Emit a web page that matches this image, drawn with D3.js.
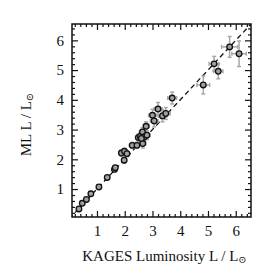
<!DOCTYPE html>
<html>
<head>
<meta charset="utf-8">
<script src="https://cdn.jsdelivr.net/npm/d3@7"></script>
<style>
    body { margin: 0; background: #fff; }
    text { font-family: "Liberation Serif", "DejaVu Serif", serif; }
</style>
</head>
<body>
<div id="chart"></div>
<script>
// KAGES luminosity vs machine-learning luminosity
var kagesL = [0.35, 0.47, 0.62, 0.78, 1.07, 1.37, 1.63, 1.66, 1.88, 1.99, 2.08, 1.98, 2.27, 2.44, 2.49, 2.56, 2.64, 2.65, 2.70, 2.77, 2.80, 2.60, 3.00, 3.06, 3.20, 3.36, 3.48, 3.71, 4.83, 5.22, 5.37, 5.78, 6.12]
var mlL    = [0.33, 0.52, 0.65, 0.84, 1.07, 1.39, 1.66, 1.72, 2.21, 2.27, 2.19, 1.97, 2.47, 2.47, 2.73, 2.77, 2.92, 2.53, 2.75, 3.11, 2.81, 2.70, 3.48, 3.29, 3.69, 3.46, 3.54, 4.06, 4.50, 5.21, 4.96, 5.78, 5.55]
var kagesErr = [0.03, 0.03, 0.03, 0.04, 0.04, 0.05, 0.06, 0.06, 0.08, 0.08, 0.08, 0.08, 0.10, 0.10, 0.10, 0.10, 0.11, 0.11, 0.11, 0.11, 0.11, 0.11, 0.14, 0.14, 0.15, 0.15, 0.16, 0.16, 0.23, 0.18, 0.17, 0.29, 0.26]
var mlErr    = [0.03, 0.03, 0.03, 0.04, 0.04, 0.05, 0.06, 0.06, 0.10, 0.10, 0.10, 0.10, 0.10, 0.10, 0.12, 0.12, 0.14, 0.15, 0.14, 0.15, 0.15, 0.14, 0.20, 0.20, 0.22, 0.20, 0.20, 0.20, 0.30, 0.25, 0.25, 0.35, 0.43]
var tickValues = [1, 2, 3, 4, 5, 6]

var width = 276
var height = 276
var margin = {top: 24, right: 25, bottom: 59, left: 72}

function drawChart() {
    var data = kagesL.map((k, i) => ({x: k, y: mlL[i], ex: kagesErr[i], ey: mlErr[i]}))

    var xScale = d3.scaleLinear([0.1, 6.55], [margin.left, width - margin.right])
    var yScale = d3.scaleLinear([0.06, 6.55], [height - margin.bottom, margin.top])

    var svg = d3.select("#chart")
        .append("svg")
        .attr("width", width)
        .attr("height", height)
        .attr("viewBox", [0, 0, width, height])

    svg.append("defs").append("clipPath").attr("id", "clip")
        .append("rect")
        .attr("x", margin.left).attr("y", margin.top)
        .attr("width", width - margin.left - margin.right)
        .attr("height", height - margin.top - margin.bottom)

    var minor = d3.range(0.2, 6.6, 0.2).filter(v => Math.abs(v - Math.round(v)) > 0.01)

    // inward ticks on all four sides
    var axes = [
        {ax: d3.axisBottom(xScale), y: height - margin.bottom, x: 0, labels: true},
        {ax: d3.axisTop(xScale), y: margin.top, x: 0, labels: false},
        {ax: d3.axisLeft(yScale), y: 0, x: margin.left, labels: true},
        {ax: d3.axisRight(yScale), y: 0, x: width - margin.right, labels: false}
    ]
    axes.forEach(a => {
        var g = svg.append("g").attr("transform", "translate(" + a.x + "," + a.y + ")")
        g.call(a.ax.tickValues(minor).tickSize(-3).tickSizeOuter(0).tickFormat(""))
        g.select(".domain").remove()
        var g2 = svg.append("g").attr("transform", "translate(" + a.x + "," + a.y + ")")
        g2.call(a.ax.tickValues(tickValues).tickSize(-6).tickSizeOuter(0).tickPadding(8)
            .tickFormat(a.labels ? d3.format("d") : ""))
        g2.select(".domain").remove()
        g2.selectAll("text").attr("font-size", 15).attr("fill", "#111")
            .style("font-family", "'Liberation Serif', serif")
        svg.selectAll(".tick line").attr("stroke", "#111").attr("stroke-width", 1.2)
    })

    // 1:1 line
    svg.append("line")
        .attr("clip-path", "url(#clip)")
        .attr("x1", xScale(0)).attr("y1", yScale(0))
        .attr("x2", xScale(7)).attr("y2", yScale(7))
        .attr("stroke", "#111")
        .attr("stroke-width", 1.3)
        .attr("stroke-dasharray", "5,3.5")

    var errColor = "#a8a8a8"
    var eb = svg.append("g").attr("stroke", errColor).attr("stroke-width", 1.5)
    data.forEach(d => {
        eb.append("line")
            .attr("x1", xScale(d.x - d.ex)).attr("x2", xScale(d.x + d.ex))
            .attr("y1", yScale(d.y)).attr("y2", yScale(d.y))
        eb.append("line")
            .attr("x1", xScale(d.x)).attr("x2", xScale(d.x))
            .attr("y1", yScale(d.y - d.ey)).attr("y2", yScale(d.y + d.ey))
        ;[d.y - d.ey, d.y + d.ey].forEach(v => {
            eb.append("line")
                .attr("x1", xScale(d.x) - 2).attr("x2", xScale(d.x) + 2)
                .attr("y1", yScale(v)).attr("y2", yScale(v))
        })
        ;[d.x - d.ex, d.x + d.ex].forEach(v => {
            eb.append("line")
                .attr("x1", xScale(v)).attr("x2", xScale(v))
                .attr("y1", yScale(d.y) - 2).attr("y2", yScale(d.y) + 2)
        })
    })

    svg.append("g")
        .selectAll("circle")
        .data(data)
        .join("circle")
            .attr("cx", d => xScale(d.x))
            .attr("cy", d => yScale(d.y))
            .attr("r", 2.8)
            .attr("fill", "#a0a0a0")
            .attr("stroke", "#111")
            .attr("stroke-width", 1.3)

    // frame
    svg.append("rect")
        .attr("x", margin.left).attr("y", margin.top)
        .attr("width", width - margin.left - margin.right)
        .attr("height", height - margin.top - margin.bottom)
        .attr("fill", "none")
        .attr("stroke", "#111")
        .attr("stroke-width", 1.5)

    var xl = svg.append("text")
        .attr("x", (margin.left + width - margin.right) / 2 + 3)
        .attr("y", 261)
        .attr("text-anchor", "middle")
        .attr("font-size", 15)
        .attr("fill", "#111")
    xl.append("tspan").text("KAGES Luminosity  L / L")
    xl.append("tspan").attr("font-size", 10).attr("dy", 2).text("\u2299")

    var yl = svg.append("text")
        .attr("transform", "translate(31," + ((margin.top + height - margin.bottom) / 2 + 4) + ") rotate(-90)")
        .attr("text-anchor", "middle")
        .attr("font-size", 15)
        .attr("fill", "#111")
    yl.append("tspan").text("ML  L / L")
    yl.append("tspan").attr("font-size", 10).attr("dy", 2).text("\u2299")

    return svg.node()
}

drawChart()
</script>
</body>
</html>
